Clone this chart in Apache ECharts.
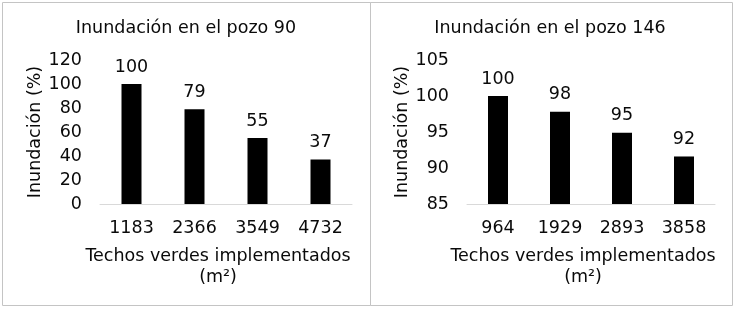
<!DOCTYPE html>
<html>
<head>
<meta charset="utf-8">
<script src="https://cdn.jsdelivr.net/npm/echarts@6/dist/echarts.min.js"></script>
<style>
  html, body { margin: 0; padding: 0; background: #fff; }
  #chart { width: 737px; height: 310px; }
</style>
</head>
<body>
<div id="chart"></div>
<script>
// pozo 90
const cats90 = ['1183', '2366', '3549', '4732'];
const vals90 = [100, 79, 55, 37];
// pozo 146
const cats146 = ['964', '1929', '2893', '3858'];
const vals146 = [100, 97.8, 94.9, 91.6];

const titles = ['Inundación en el pozo 90', 'Inundación en el pozo 146'];
const xName = 'Techos verdes implementados\n(m²)';
const yName = 'Inundación (%)';

const font = 'DejaVu Sans, Verdana, sans-serif';
const fs = 17.5;
const txt = '#0a0a0a';
const border = '#c4c4c4';

const chart = echarts.init(document.getElementById('chart'));

const xAxisBase = (idx, cats) => ({
    type: 'category',
    gridIndex: idx,
    data: cats,
    axisTick: { show: false },
    axisLine: { lineStyle: { color: '#d9d9d9', width: 1 } },
    axisLabel: { color: txt, fontFamily: font, fontSize: fs, margin: 15 },
    name: xName,
    nameLocation: 'middle',
    nameGap: 42,
    nameTextStyle: { color: txt, fontFamily: font, fontSize: fs, lineHeight: 21, padding: [0, 16, 0, 0] },
});

const yAxisBase = (idx, min, max, interval) => ({
    type: 'value',
    gridIndex: idx,
    min: min,
    max: max,
    interval: interval,
    splitLine: { show: false },
    axisLine: { show: false },
    axisTick: { show: false },
    axisLabel: { color: txt, fontFamily: font, fontSize: fs, margin: 18 },
    name: yName,
    nameLocation: 'middle',
    nameGap: 53,
    nameTextStyle: { color: txt, fontFamily: font, fontSize: fs },
});

const barSeries = (idx, vals) => ({
    type: 'bar',
    xAxisIndex: idx,
    yAxisIndex: idx,
    data: vals,
    barWidth: 20,
    itemStyle: { color: '#000' },
    label: {
        show: true,
        position: 'top',
        distance: 8,
        color: txt,
        fontFamily: font,
        fontSize: fs,
        formatter: (p) => Math.round(p.value),
    },
});

const option = {
    animation: false,
    title: [
        { text: titles[0], left: 181, top: 14, textAlign: 'center',
          textStyle: { color: txt, fontFamily: font, fontSize: fs, fontWeight: 'normal' } },
        { text: titles[1], left: 545, top: 14, textAlign: 'center',
          textStyle: { color: txt, fontFamily: font, fontSize: fs, fontWeight: 'normal' } },
    ],
    graphic: [
        { type: 'rect', shape: { x: 2.5, y: 2.5, width: 368, height: 303 },
          style: { fill: 'none', stroke: border, lineWidth: 1 }, silent: true },
        { type: 'rect', shape: { x: 370.5, y: 2.5, width: 362, height: 303 },
          style: { fill: 'none', stroke: border, lineWidth: 1 }, silent: true },
    ],
    grid: [
        { left: 100, right: 385, top: 60, bottom: 106 },
        { left: 467, right: 22, top: 60, bottom: 106 },
    ],
    xAxis: [xAxisBase(0, cats90), xAxisBase(1, cats146)],
    yAxis: [yAxisBase(0, 0, 120, 20), yAxisBase(1, 85, 105, 5)],
    series: [barSeries(0, vals90), barSeries(1, vals146)],
};

chart.setOption(option);
</script>
</body>
</html>
